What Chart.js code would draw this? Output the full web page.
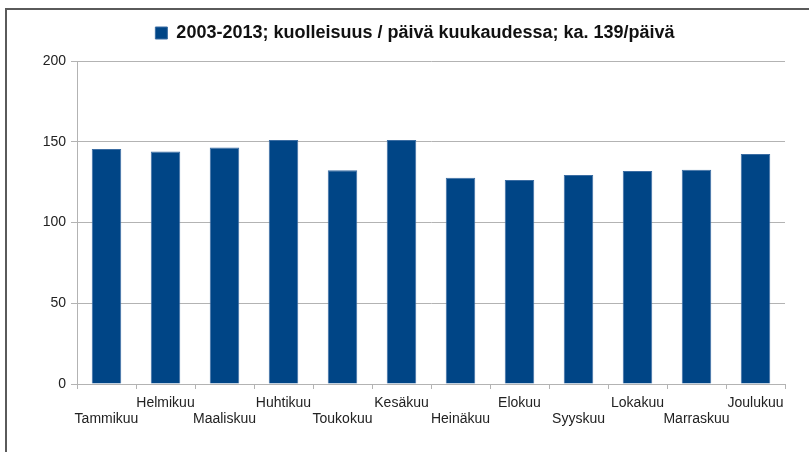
<!DOCTYPE html>
<html>
<head>
<meta charset="utf-8">
<script src="https://cdn.jsdelivr.net/npm/chart.js@4/dist/chart.umd.min.js"></script>
<style>
    html, body { margin: 0; padding: 0; background: #fff; }
    #frame {
        position: absolute;
        left: 5px;
        top: 8px;
        width: 802px;
        height: 442px;
        border-left: 2px solid #5a5a5a;
        border-top: 2px solid #5a5a5a;
    }
</style>
</head>
<body>
<div id="frame"><canvas id="deathsChart" width="802" height="442"></canvas></div>
<script>
// Kuolleisuus per päivä kuukausittain, 2003-2013
var seriesLabel = '2003-2013; kuolleisuus / päivä kuukaudessa; ka. 139/päivä';
var months = ['Tammikuu', 'Helmikuu', 'Maaliskuu', 'Huhtikuu', 'Toukokuu', 'Kesäkuu',
              'Heinäkuu', 'Elokuu', 'Syyskuu', 'Lokakuu', 'Marraskuu', 'Joulukuu'];
var deathsPerDay = [145.5, 144.0, 146.5, 151.1, 132.3, 151.1, 127.7, 126.3, 129.4, 131.9, 132.7, 142.4];
var yTicks = [0, 50, 100, 150, 200];

// legend box gets a fixed height so the plot starts where the original does,
// and is nudged right a bit (the original centres it over the plot, not the canvas)
var legendPlacement = {
    id: 'legendPlacement',
    beforeInit: function (chart) {
        var fit = chart.legend.fit;
        chart.legend.fit = function () {
            fit.call(this);
            this.height = 47;
        };
    },
    afterLayout: function (chart) {
        chart.legend.left += 19;
        chart.legend.right += 19;
    }
};

document.addEventListener('DOMContentLoaded', function () {
    var ctx = document.getElementById('deathsChart');
    var gridGray = '#b3b3b3';

    new Chart(ctx, {
        type: 'bar',
        data: {
            labels: months,
            datasets: [{
                label: seriesLabel,
                data: deathsPerDay,
                backgroundColor: '#004586',
                borderColor: '#3b6da3',
                borderWidth: 1,
                barPercentage: 0.5,
                categoryPercentage: 1.0
            }]
        },
        plugins: [legendPlacement],
        options: {
            responsive: false,
            animation: false,
            layout: {
                padding: { left: 0, right: 24, top: 4, bottom: 18 }
            },
            plugins: {
                legend: {
                    position: 'top',
                    labels: {
                        boxWidth: 12,
                        boxHeight: 12,
                        padding: 10,
                        color: '#111',
                        font: { family: 'Liberation Sans', size: 18, weight: 'bold' }
                    }
                },
                tooltip: { enabled: false }
            },
            scales: {
                x: {
                    offset: true,
                    afterFit: function (scale) { scale.height = 50; },
                    grid: {
                        offset: true,
                        drawOnChartArea: true,
                        color: function (c) { return c.index === months.length ? gridGray : 'rgba(0,0,0,0)'; },
                        tickColor: gridGray,
                        tickLength: 5
                    },
                    border: { color: gridGray },
                    ticks: {
                        autoSkip: false,
                        maxRotation: 0,
                        padding: 6,
                        color: '#222',
                        font: { family: 'Liberation Sans', size: 14, lineHeight: '16px' },
                        callback: function (value, index) {
                            var name = months[index];
                            return index % 2 === 0 ? ['', name] : name;
                        }
                    }
                },
                y: {
                    min: yTicks[0],
                    max: yTicks[yTicks.length - 1],
                    afterFit: function (scale) { scale.width = 70; },
                    afterBuildTicks: function (scale) {
                        scale.ticks = yTicks.map(function (v) { return { value: v }; });
                    },
                    grid: {
                        color: gridGray,
                        tickLength: 6
                    },
                    border: { color: gridGray },
                    ticks: {
                        padding: 5,
                        color: '#222',
                        font: { family: 'Liberation Sans', size: 14 }
                    }
                }
            }
        }
    });
});
</script>
</body>
</html>
